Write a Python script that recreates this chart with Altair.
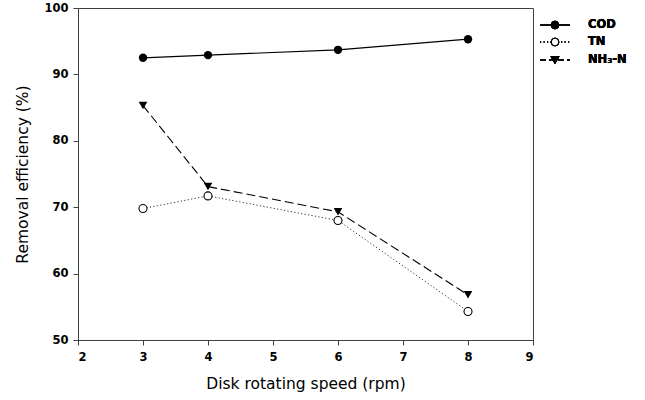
import altair as alt
import pandas as pd

# Removal efficiency (%) at each disk rotating speed (rpm)
speed = [3, 4, 6, 8]
cod = [92.5, 92.9, 93.7, 95.3]
tn = [69.8, 71.7, 68.0, 54.3]
nh3n = [85.3, 73.1, 69.3, 56.8]

series_names = ["COD", "TN", "NH₃-N"]
x_ticks = [2, 3, 4, 5, 6, 7, 8, 9]
y_ticks = [50, 60, 70, 80, 90, 100]

FONT = "DejaVu Sans"
INK = "#000000"
AXIS = "#404040"

df = pd.DataFrame({"speed": speed, "COD": cod, "TN": tn, "NH3N": nh3n})

x_enc = alt.X(
    "speed:Q",
    scale=alt.Scale(domain=[2, 9], nice=False),
    axis=alt.Axis(values=x_ticks, title="Disk rotating speed (rpm)", format="d", grid=False),
)


def y_enc(field):
    return alt.Y(
        f"{field}:Q",
        scale=alt.Scale(domain=[50, 100], nice=False, zero=False),
        axis=alt.Axis(values=y_ticks, title="Removal efficiency (%)", grid=False),
    )


base = alt.Chart(df)

cod_line = base.mark_line(color=INK, strokeWidth=1.2).encode(x=x_enc, y=y_enc("COD"))
cod_pts = base.mark_point(shape="circle", filled=True, color=INK, size=70, opacity=1).encode(
    x="speed:Q", y="COD:Q"
)

tn_line = base.mark_line(color="#333333", strokeWidth=1, strokeDash=[1.2, 2.3]).encode(
    x="speed:Q", y="TN:Q"
)
tn_pts = base.mark_point(
    shape="circle", filled=True, fill="white", stroke=INK, strokeWidth=1.1, size=64, opacity=1
).encode(x="speed:Q", y="TN:Q")

nh_line = base.mark_line(color=INK, strokeWidth=1.1, strokeDash=[9, 4]).encode(
    x="speed:Q", y="NH3N:Q"
)
nh_pts = base.mark_point(
    shape="triangle-down", filled=True, color=INK, size=75, opacity=1
).encode(x="speed:Q", y="NH3N:Q")

# Hand-built legend to the right of the plot frame
leg_rows = [17, 34, 52]
leg_dash = [[1, 0], [1.2, 2.3], [6, 3]]
leg_shape = ["circle", "circle", "triangle-down"]
leg_fill = [INK, "white", INK]

legend_layers = []
for name, yy, dash, shp, fl in zip(series_names, leg_rows, leg_dash, leg_shape, leg_fill):
    legend_layers.append(
        alt.Chart(df).mark_rule(color=INK, strokeWidth=1.1, strokeDash=dash).encode(
            x=alt.value(462), x2=alt.value(492), y=alt.value(yy)
        )
    )
    legend_layers.append(
        alt.Chart(df).mark_point(
            shape=shp, filled=True, fill=fl, stroke=INK, strokeWidth=1.1, size=55, opacity=1
        ).encode(x=alt.value(477), y=alt.value(yy))
    )
    legend_layers.append(
        alt.Chart(df).mark_text(
            align="left", baseline="middle", font=FONT, fontSize=11.5, fontWeight="bold", color=INK
        ).encode(x=alt.value(510), y=alt.value(yy), text=alt.value(name))
    )

chart = (
    alt.layer(cod_line, cod_pts, tn_line, tn_pts, nh_line, nh_pts, *legend_layers)
    .properties(
        width=455,
        height=332,
        background="white",
        autosize=alt.AutoSizeParams(type="none"),
        padding={"left": 78, "top": 8, "right": 112, "bottom": 60},
    )
    .configure_view(stroke=AXIS, strokeWidth=1)
    .configure_axis(
        grid=False,
        domainColor=AXIS,
        tickColor=AXIS,
        tickSize=5,
        labelFont=FONT,
        labelFontSize=11.5,
        labelFontWeight="bold",
        labelColor=INK,
        titleFont=FONT,
        titleFontSize=15.5,
        titleFontWeight="normal",
        titleColor=INK,
    )
    .configure_axisX(labelPadding=6, titlePadding=14)
    .configure_axisY(labelPadding=5, titlePadding=13)
)

chart.save("out.html", embed_options={"renderer": "svg", "actions": False})
